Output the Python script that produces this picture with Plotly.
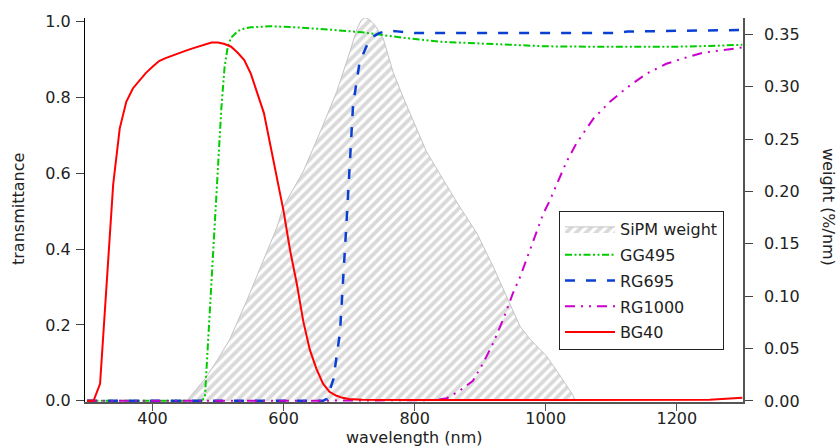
import plotly.graph_objects as go

# ---------------- data ----------------
sipm_wl = [452, 460, 480, 500, 518, 544, 569, 590, 600, 630, 656, 681, 701, 712, 718, 724,
           731, 740, 752, 767, 783, 798, 818, 839, 854, 866, 895, 920, 945, 961, 976, 1001,
           1022, 1042, 1045]
sipm_weight = [0.0, 0.006, 0.021, 0.040, 0.059, 0.096, 0.134, 0.166, 0.186, 0.219, 0.257, 0.295,
               0.333, 0.355, 0.363, 0.366, 0.364, 0.358, 0.346, 0.314, 0.289, 0.267, 0.238,
               0.216, 0.200, 0.188, 0.160, 0.128, 0.093, 0.071, 0.059, 0.043, 0.024, 0.005, 0.0]

gg495_wl = [300, 400, 475, 480, 485, 490, 495, 500, 505, 510, 515, 520, 530, 540, 550, 580,
            620, 670, 720, 780, 840, 920, 1000, 1070, 1200, 1250, 1300]
gg495_t = [0.0, 0.0, 0.0, 0.01, 0.16, 0.31, 0.47, 0.61, 0.77, 0.88, 0.935, 0.957, 0.974,
           0.981, 0.984, 0.987, 0.984, 0.978, 0.971, 0.957, 0.946, 0.940, 0.934, 0.933,
           0.933, 0.935, 0.938]

rg695_wl = [300, 500, 660, 666, 676, 686, 691, 695, 698, 706, 716, 729, 737, 745, 757, 770,
            800, 1110, 1125, 1200, 1300]
rg695_t = [0.0, 0.0, 0.0, 0.005, 0.057, 0.179, 0.31, 0.44, 0.53, 0.779, 0.892, 0.944, 0.96,
           0.968, 0.975, 0.974, 0.969, 0.969, 0.973, 0.974, 0.977]

rg1000_wl = [300, 600, 830, 849, 869, 889, 905, 920, 935, 950, 961, 976, 986, 996, 1006,
             1022, 1032, 1047, 1062, 1073, 1098, 1123, 1154, 1184, 1215, 1240, 1266, 1300]
rg1000_t = [0.0, 0.0, 0.002, 0.007, 0.027, 0.053, 0.101, 0.153, 0.214, 0.284, 0.327, 0.397,
            0.449, 0.492, 0.527, 0.592, 0.631, 0.679, 0.718, 0.744, 0.788, 0.824, 0.862,
            0.888, 0.905, 0.917, 0.923, 0.931]

bg40_wl = [300, 310, 320, 330, 340, 350, 360, 370, 380, 390, 400, 410, 420, 430, 440, 450,
           460, 470, 480, 490, 500, 510, 520, 530, 540, 550, 560, 570, 580, 590, 600, 610,
           620, 630, 640, 650, 660, 670, 680, 690, 700, 720, 800, 1000, 1250, 1300]
bg40_t = [0.0, 0.0, 0.045, 0.31, 0.57, 0.718, 0.788, 0.823, 0.845, 0.864, 0.88, 0.895, 0.903,
          0.91, 0.916, 0.922, 0.928, 0.934, 0.94, 0.944, 0.944, 0.94, 0.933, 0.917, 0.898,
          0.862, 0.81, 0.758, 0.672, 0.586, 0.5, 0.396, 0.31, 0.21, 0.135, 0.085, 0.046,
          0.024, 0.014, 0.008, 0.005, 0.003, 0.002, 0.002, 0.003, 0.008]

x_ticks = [400, 600, 800, 1000, 1200]
y_ticks = [0.0, 0.2, 0.4, 0.6, 0.8, 1.0]
y2_ticks = [0.0, 0.05, 0.10, 0.15, 0.20, 0.25, 0.30, 0.35]

FONT = "DejaVu Sans, Noto Sans, sans-serif"
TXT = "#222222"

fig = go.Figure()

# SiPM weight on the (right-hand) weight axis, drawn underneath
fig.add_trace(go.Scatter(
    x=sipm_wl, y=sipm_weight, yaxis="y", name="SiPM weight", mode="lines",
    line=dict(color="#c4c4c4", width=1), fill="tozeroy",
    fillcolor="white", legendgroup="a",
    fillpattern=dict(shape="/", fgcolor="#b4b4b4", bgcolor="white", size=7, solidity=0.55),
))
# filter transmittances on the (left-hand) transmittance axis, drawn on top
fig.add_trace(go.Scatter(
    x=gg495_wl, y=gg495_t, yaxis="y2", name="GG495", mode="lines", legendgroup="b",
    line=dict(color="#00cc00", width=2, dash="7px,2.5px,2px,2.5px,2px,2.5px"),
))
fig.add_trace(go.Scatter(
    x=rg695_wl, y=rg695_t, yaxis="y2", name="RG695", mode="lines", legendgroup="c",
    line=dict(color="#0a3fd4", width=2.5, dash="10px,11px"),
))
fig.add_trace(go.Scatter(
    x=rg1000_wl, y=rg1000_t, yaxis="y2", name="RG1000", mode="lines", legendgroup="d",
    line=dict(color="#cc00cc", width=2, dash="10px,6px,2px,6px,2px,6px"),
))
fig.add_trace(go.Scatter(
    x=bg40_wl, y=bg40_t, yaxis="y2", name="BG40", mode="lines", legendgroup="e",
    line=dict(color="#ff0000", width=2),
))

L, R, T, B = 85, 97, 16, 46
W, H = 840, 448
pw, ph = W - L - R, H - T - B

def px_x(p):
    return (p - L) / pw

def px_y(p):
    return (H - B - p) / ph

fig.update_layout(
    width=W, height=H,
    margin=dict(l=L, r=R, t=T, b=B),
    paper_bgcolor="white", plot_bgcolor="white",
    font=dict(family=FONT, size=16, color=TXT),
    showlegend=True,
    legend=dict(
        x=px_x(559), y=px_y(210), xanchor="left", yanchor="top",
        bgcolor="white", bordercolor="#222222", borderwidth=1,
        font=dict(family=FONT, size=16, color=TXT),
        traceorder="grouped", tracegroupgap=2, itemwidth=50,
    ),
    xaxis=dict(
        range=[297, 1301], tickvals=x_ticks, ticktext=[str(v) for v in x_ticks],
        showgrid=False, zeroline=False, showline=True, linecolor="#555555", linewidth=1.5,
        ticks="outside", ticklen=7, tickcolor="#555555", tickwidth=1,
        ticklabelstandoff=-6,
        tickfont=dict(family=FONT, size=16, color=TXT),
    ),
    yaxis2=dict(
        range=[-0.003, 1.0086], overlaying="y", side="left",
        tickvals=y_ticks, ticktext=[f"{v:.1f}" for v in y_ticks],
        showgrid=False, zeroline=False, showline=True, linecolor="#000000", linewidth=1,
        ticks="outside", ticklen=8, tickcolor="#444444", tickwidth=1,
        ticklabelstandoff=2,
        tickfont=dict(family=FONT, size=16, color=TXT),
    ),
    yaxis=dict(
        range=[-0.001, 0.3655], side="right",
        tickvals=y2_ticks, ticktext=[f"{v:.2f}" for v in y2_ticks],
        showgrid=False, zeroline=False, showline=True, linecolor="#555555", linewidth=1.5,
        ticks="outside", ticklen=8, tickcolor="#444444", tickwidth=1,
        ticklabelstandoff=8,
        tickfont=dict(family=FONT, size=16, color=TXT),
    ),
    annotations=[
        dict(text="wavelength (nm)", xref="paper", yref="paper", x=0.5, y=px_y(438),
             xanchor="center", yanchor="middle", showarrow=False,
             font=dict(family=FONT, size=16, color=TXT)),
        dict(text="transmittance", xref="paper", yref="paper", x=px_x(18), y=px_y(208),
             xanchor="center", yanchor="middle", showarrow=False, textangle=-90,
             font=dict(family=FONT, size=16, color=TXT)),
        dict(text="weight (%/nm)", xref="paper", yref="paper", x=px_x(829), y=px_y(206),
             xanchor="center", yanchor="middle", showarrow=False, textangle=90,
             font=dict(family=FONT, size=16, color=TXT)),
    ],
)

fig.write_html("out.html", config={"displayModeBar": False},
               post_script="document.body.style.margin='0';")
